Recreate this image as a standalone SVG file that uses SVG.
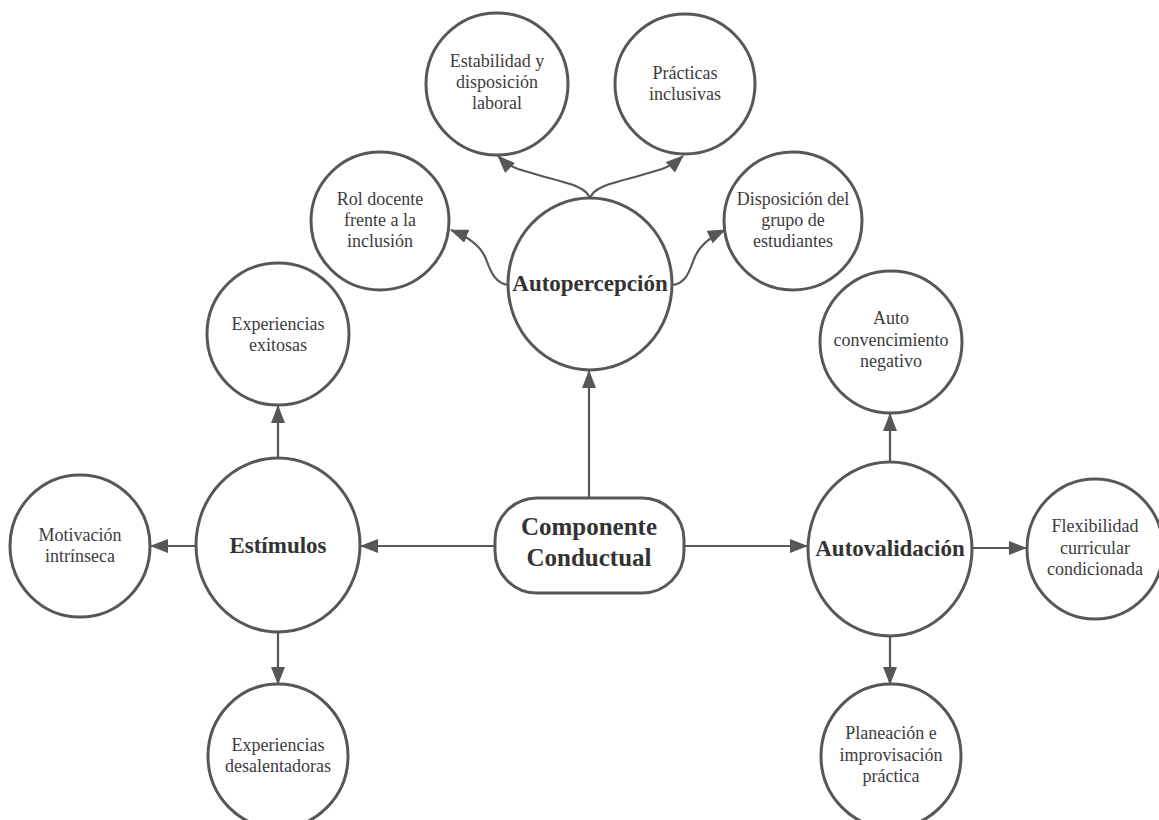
<svg xmlns="http://www.w3.org/2000/svg" width="1159" height="820" viewBox="0 0 1159 820">
<style>
.n{fill:#fff;stroke:#575757;stroke-width:3}
.t{font-family:"Liberation Serif",serif;font-size:18px;fill:#3c3c3c;text-anchor:middle}
.b{font-family:"Liberation Serif",serif;font-size:23px;font-weight:bold;fill:#333;text-anchor:middle}
.c{font-family:"Liberation Serif",serif;font-size:25px;font-weight:bold;fill:#333;text-anchor:middle}
.e{fill:none;stroke:#575757;stroke-width:2.2;marker-end:url(#ah)}
</style>
<defs>
<marker id="ah" markerUnits="userSpaceOnUse" markerWidth="18" markerHeight="14" viewBox="0 0 18 14" refX="17" refY="7" orient="auto">
<path d="M0,0 L18,7 L0,14 z" fill="#575757"/>
</marker>
</defs>
<rect width="1159" height="820" fill="#fff"/>
<g id="connectors">
<path class="e" d="M589,498 L589,371"/>
<path class="e" d="M495,546 L361,546"/>
<path class="e" d="M684,546 L807,546"/>
<path class="e" d="M278,458 L278,406"/>
<path class="e" d="M196,546 L151,546"/>
<path class="e" d="M278,632 L278,684"/>
<path class="e" d="M890,462 L890,414"/>
<path class="e" d="M972,548 L1026,548"/>
<path class="e" d="M890,636 L890,684"/>
<path class="e" d="M590,199 C588,188 572,184 545,177 L518,169 Q507,165 498,156"/>
<path class="e" d="M590,199 C592,188 608,184 635,177 L662,169 Q673,165 683,156"/>
<path class="e" d="M509,285 C496,284 491,273 486,259 Q479,241 451,230"/>
<path class="e" d="M672,285 C685,284 689,273 694,259 Q701,241 725,230"/>
</g>
<g id="componente">
<rect class="n" x="495" y="498" width="189" height="95" rx="42"/>
<text class="c" x="589" y="535">Componente</text>
<text class="c" x="589" y="566">Conductual</text>
</g>
<g id="autopercepcion">
<ellipse class="n" cx="590" cy="284" rx="82" ry="86"/>
<text class="b" x="590" y="291">Autopercepción</text>
</g>
<g id="estabilidad">
<circle class="n" cx="497" cy="84" r="71"/>
<text class="t" x="497" y="67">Estabilidad y</text>
<text class="t" x="497" y="88">disposición</text>
<text class="t" x="497" y="109">laboral</text>
</g>
<g id="practicas">
<circle class="n" cx="685" cy="84" r="70"/>
<text class="t" x="685" y="79">Prácticas</text>
<text class="t" x="685" y="100">inclusivas</text>
</g>
<g id="rol">
<circle class="n" cx="380" cy="221" r="69"/>
<text class="t" x="380" y="205">Rol docente</text>
<text class="t" x="380" y="226">frente a la</text>
<text class="t" x="380" y="247">inclusión</text>
</g>
<g id="disposicion">
<circle class="n" cx="793" cy="221" r="69"/>
<text class="t" x="793" y="205">Disposición del</text>
<text class="t" x="793" y="226">grupo de</text>
<text class="t" x="793" y="247">estudiantes</text>
</g>
<g id="estimulos">
<ellipse class="n" cx="278" cy="545" rx="82" ry="87"/>
<text class="b" x="278" y="553">Estímulos</text>
</g>
<g id="exitosas">
<circle class="n" cx="278" cy="334" r="71"/>
<text class="t" x="278" y="330">Experiencias</text>
<text class="t" x="278" y="351">exitosas</text>
</g>
<g id="motivacion">
<ellipse class="n" cx="80" cy="546" rx="70" ry="71"/>
<text class="t" x="80" y="541">Motivación</text>
<text class="t" x="80" y="562">intrínseca</text>
</g>
<g id="desalentadoras">
<ellipse class="n" cx="278" cy="756" rx="70" ry="72"/>
<text class="t" x="278" y="751">Experiencias</text>
<text class="t" x="278" y="772">desalentadoras</text>
</g>
<g id="autovalidacion">
<ellipse class="n" cx="890" cy="549" rx="82" ry="87"/>
<text class="b" x="890" y="556">Autovalidación</text>
</g>
<g id="autoconvencimiento">
<circle class="n" cx="891" cy="342" r="71"/>
<text class="t" x="891" y="324">Auto</text>
<text class="t" x="891" y="346">convencimiento</text>
<text class="t" x="891" y="367">negativo</text>
</g>
<g id="flexibilidad">
<ellipse class="n" cx="1095" cy="549" rx="68" ry="70"/>
<text class="t" x="1095" y="532">Flexibilidad</text>
<text class="t" x="1095" y="554">curricular</text>
<text class="t" x="1095" y="575">condicionada</text>
</g>
<g id="planeacion">
<ellipse class="n" cx="891" cy="756" rx="70" ry="72"/>
<text class="t" x="891" y="739">Planeación e</text>
<text class="t" x="891" y="761">improvisación</text>
<text class="t" x="891" y="782">práctica</text>
</g>
</svg>
